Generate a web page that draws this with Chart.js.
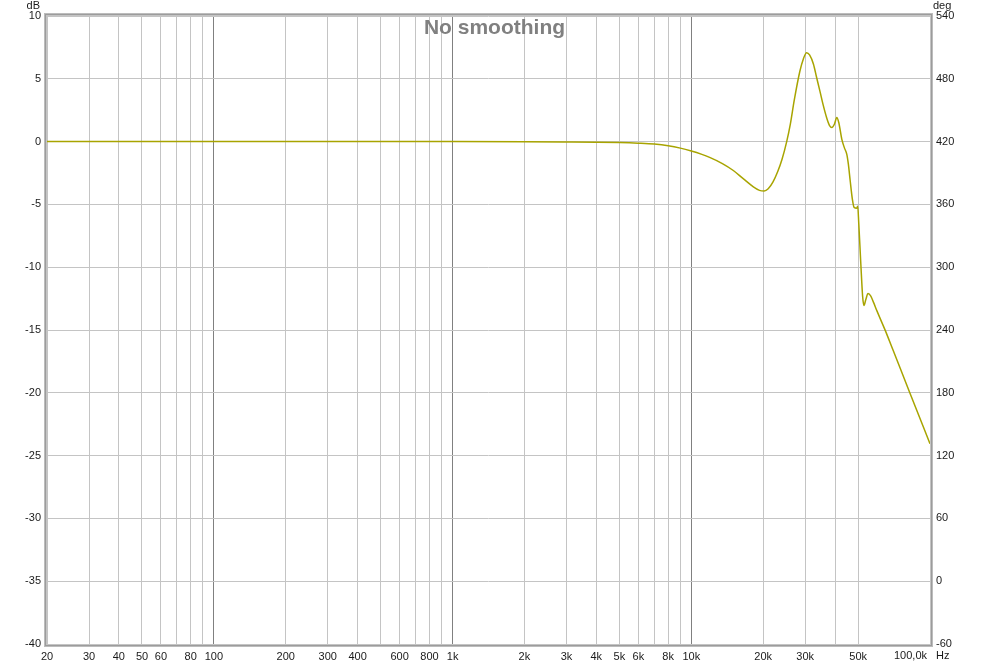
<!DOCTYPE html>
<html>
<head>
<meta charset="utf-8">
<script src="https://cdn.jsdelivr.net/npm/chart.js@4"></script>
<style>
  body { margin: 0; background: #fff; }
  canvas { display: block; }
</style>
</head>
<body>
<canvas id="graphic" width="989" height="666"></canvas>
<script>
// response (Hz -> dB)
const freqs = [20, 200, 1000, 2000, 3000, 4000, 5000, 6000, 7000, 8000, 9000, 10000,
  11000, 12000, 13500, 15000, 16500, 18200, 19300, 20200, 21000, 22000, 23000, 24000,
  25100, 26000, 27000, 28500, 29500, 30400, 31300, 32500, 33500, 34600, 35700, 36900,
  37900, 38800, 39800, 40700, 41500, 42700, 43800, 44800, 45500, 46300, 47300, 48100,
  49300, 49800, 50300, 51300, 52200, 52900, 53800, 55000, 56500, 58000, 60000, 65000,
  70000, 82600, 100000]
const levels = [0, 0, 0, -0.01, -0.03, -0.05, -0.08, -0.13, -0.2, -0.33, -0.52, -0.75,
  -1.0, -1.28, -1.75, -2.3, -2.95, -3.6, -3.88, -3.93, -3.75, -3.2, -2.4, -1.4,
  0.0, 1.4, 3.3, 5.6, 6.6, 7.08, 6.9, 6.16, 5.1, 4.0, 2.9, 1.9,
  1.3, 1.12, 1.4, 1.92, 1.5, 0.2, -0.5, -1.0, -1.8, -3.1, -4.6, -5.24,
  -5.3, -5.15, -6.5, -9.7, -12.3, -13.05, -12.6, -12.1, -12.3, -12.8, -13.5, -15.05,
  -16.6, -20.07, -24.05]

const freqTicks = [20, 30, 40, 50, 60, 70, 80, 90, 100, 200, 300, 400, 500, 600, 700, 800, 900,
  1000, 2000, 3000, 4000, 5000, 6000, 7000, 8000, 9000, 10000, 20000, 30000, 40000, 50000, 100000]
const freqLabels = ['20', '30', '40', '50', '60', '', '80', '', '100', '200', '300', '400', '', '600', '', '800', '',
  '1k', '2k', '3k', '4k', '5k', '6k', '', '8k', '', '10k', '20k', '30k', '', '50k', '100,0k']
const decades = [100, 1000, 10000]

const dbMin = -40, dbMax = 10, dbStep = 5
const degMin = -60, degMax = 540, degStep = 60

const title = 'No smoothing'
const font = '"Liberation Sans", Arial, sans-serif'

const extras = {
  id: 'extras',
  afterDraw(chart) {
    const { ctx, chartArea: a } = chart
    ctx.save()
    // frame
    ctx.lineWidth = 1
    const shades = ['#bcbcbc', '#9c9c9c', '#c4c4c4']
    shades.forEach((c, i) => {
      const o = 2.5 - i
      ctx.strokeStyle = c
      ctx.strokeRect(a.left - o, a.top - o, a.right - a.left + 2 * o, a.bottom - a.top + 2 * o)
    })
    // title
    ctx.fillStyle = '#808080'
    ctx.font = 'bold 21px ' + font
    ctx.textAlign = 'center'
    ctx.textBaseline = 'alphabetic'
    ctx.fillText(title, chart.width / 2, 34)
    // unit labels
    ctx.fillStyle = '#1a1a1a'
    ctx.font = '11px ' + font
    ctx.textAlign = 'right'
    ctx.fillText('dB', a.left - 7, 9)
    ctx.textAlign = 'left'
    ctx.fillText('deg', a.right + 3, 9)
    const x = chart.scales.x.getPixelForValue(100000)
    ctx.textBaseline = 'middle'
    ctx.textAlign = 'right'
    ctx.fillText(freqLabels[freqLabels.length - 1], x - 3, 656)
    ctx.textAlign = 'left'
    ctx.fillText('Hz', x + 6, 656)
    ctx.restore()
  }
}

new Chart(document.querySelector('#graphic').getContext('2d'), {
  type: 'line',
  data: {
    datasets: [{
      data: freqs.map((f, i) => ({ x: f, y: levels[i] })),
      borderColor: '#a8a400',
      borderWidth: 1.5,
      pointRadius: 0,
      cubicInterpolationMode: 'monotone',
      fill: false
    }]
  },
  options: {
    responsive: false,
    animation: false,
    layout: { padding: { top: 16, left: 0, right: 0, bottom: 0 } },
    plugins: { legend: { display: false }, tooltip: { enabled: false } },
    scales: {
      x: {
        type: 'logarithmic',
        min: 20,
        max: 100000,
        afterBuildTicks: (axis) => { axis.ticks = freqTicks.map((v) => ({ value: v })) },
        afterFit: (s) => { s.height = 22 },
        border: { display: false },
        grid: {
          drawTicks: false,
          color: (c) => decades.includes(c.tick && c.tick.value) ? '#808080' : '#c4c4c4'
        },
        ticks: {
          autoSkip: false,
          maxRotation: 0,
          padding: 6,
          color: '#1a1a1a',
          font: { family: font, size: 11 },
          callback: (v, i, t) => i === t.length - 1 ? '' : freqLabels[i]
        }
      },
      y: {
        position: 'left',
        min: dbMin,
        max: dbMax,
        afterFit: (s) => { s.width = 47 },
        border: { display: false },
        grid: { drawTicks: false, color: '#c4c4c4' },
        ticks: {
          stepSize: dbStep,
          padding: 6,
          color: '#1a1a1a',
          font: { family: font, size: 11 }
        }
      },
      y1: {
        position: 'right',
        min: degMin,
        max: degMax,
        afterFit: (s) => { s.width = 59 },
        border: { display: false },
        grid: { drawTicks: false, drawOnChartArea: false },
        ticks: {
          stepSize: degStep,
          padding: 6,
          color: '#1a1a1a',
          font: { family: font, size: 11 }
        }
      }
    }
  },
  plugins: [extras]
})
</script>
</body>
</html>
